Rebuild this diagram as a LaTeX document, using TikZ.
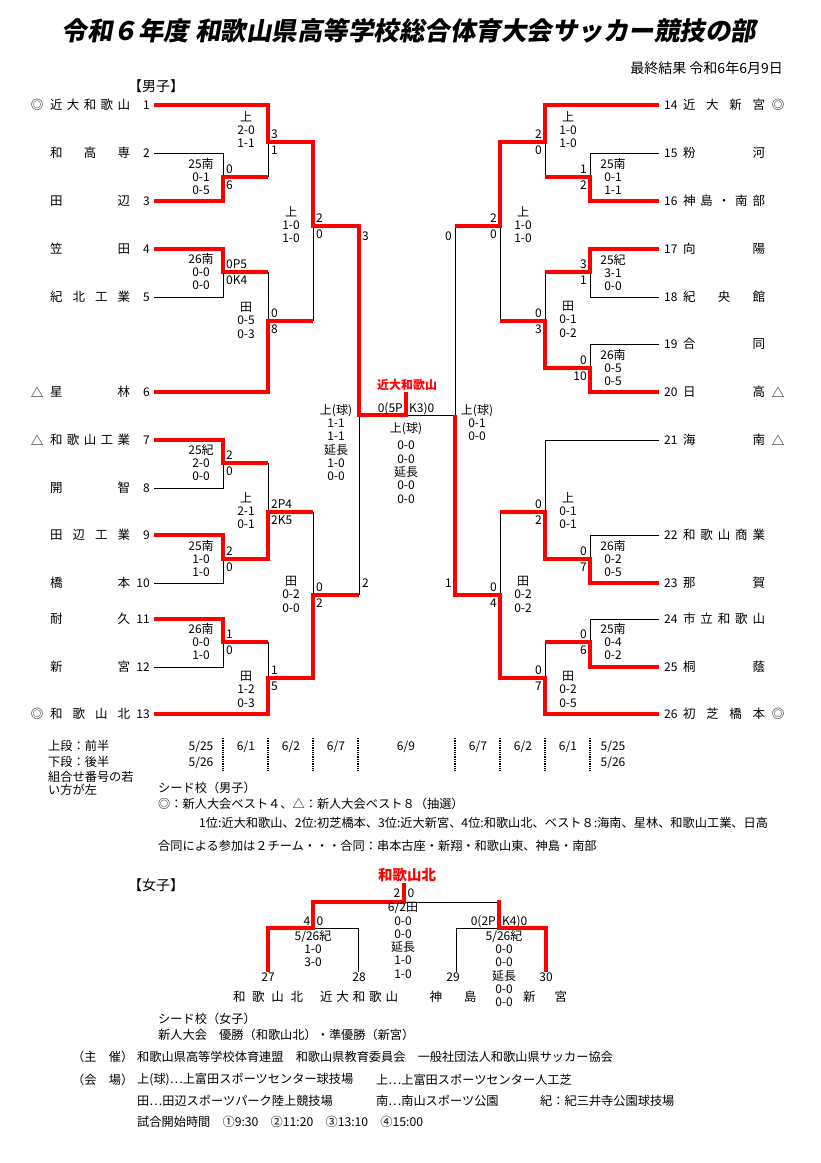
\documentclass[tikz,border=0pt]{standalone}
\usepackage{fontspec}
\setmainfont{Noto Sans CJK JP}
\newfontfamily\ttlfont[FakeSlant=0.18]{Noto Sans CJK JP}
\definecolor{winred}{RGB}{255,0,0}

\tikzset{
  win/.style={draw=winred,line width=4pt},
  lose/.style={draw=black,line width=0.8pt},
  datesep/.style={draw=black,line width=1.3pt,densely dotted},
  tname/.style={inner sep=0pt,font=\fontsize{12.5}{14}\selectfont,text height=9.5pt,text depth=1.5pt},
  tnum/.style={inner sep=0pt,font=\fontsize{12}{14}\selectfont,text height=8.5pt,text depth=0pt},
  seedmk/.style={inner sep=0pt,font=\fontsize{12.5}{14}\selectfont},
  score/.style={inner sep=0pt,font=\fontsize{12}{14}\selectfont,text height=8.5pt,text depth=0pt},
  result/.style={inner sep=0pt,anchor=north,align=center,font=\fontsize{12}{13.3}\selectfont},
  note/.style={inner sep=0pt,anchor=west,font=\fontsize{12.2}{14}\selectfont},
  head/.style={inner sep=0pt,anchor=west,font=\fontsize{14}{16}\selectfont},
  champ/.style={inner sep=0pt,text=winred,font=\bfseries\fontsize{12}{14}\selectfont}
}

% team rows: number, y, seed mark, name
\newcommand{\lteam}[4]{%
  \node[seedmk] (lm#1) at (37,#2) {#3};
  \node[tname] (nm#1) at (90,#2) {\makebox[80pt][s]{#4}};
  \node[tnum,anchor=east] (no#1) at (150,#2) {#1};}
\newcommand{\rteam}[4]{%
  \node[tnum,anchor=west] (no#1) at (664,#2) {#1};
  \node[tname] (nm#1) at (724,#2) {\makebox[82pt][s]{#4}};
  \node[seedmk] (rm#1) at (778,#2) {#3};}
% scores beside a bracket: name, x, y, upper, lower
\newcommand{\lsc}[5]{%
  \node[score,anchor=west] (#1a) at (#2+3,#3-8) {#4};
  \node[score,anchor=west] (#1b) at (#2+3,#3+8) {#5};}
\newcommand{\rsc}[5]{%
  \node[score,anchor=east] (#1a) at (#2-3,#3-8) {#4};
  \node[score,anchor=east] (#1b) at (#2-3,#3+8) {#5};}
% venue and half scores: name, x, y of first line, text
\newcommand{\res}[4]{\node[result] (#1) at (#2,#3-6) {#4};}

\begin{document}
\begin{tikzpicture}[x=1pt,y=-1pt]
  \useasboundingbox (0,0) rectangle (821,1163);
  \node[font=\ttlfont\bfseries\fontsize{25.5}{28}\selectfont] (title) at (409,31)
    {令和６年度 和歌山県高等学校総合体育大会サッカー競技の部};
  \node[head,anchor=east] (final) at (783,68) {最終結果 令和6年6月9日};
  \node[head] (boys) at (128,86) {【男子】};

  % boys, left half
  \lteam{1}{105}{◎}{近 大 和 歌 山}
  \lteam{2}{153}{}{和 高 専}
  \lteam{3}{201}{}{田 辺}
  \lteam{4}{249}{}{笠 田}
  \lteam{5}{297}{}{紀 北 工 業}
  \lteam{6}{392}{△}{星 林}
  \lteam{7}{440}{△}{和 歌 山 工 業}
  \lteam{8}{488}{}{開 智}
  \lteam{9}{535}{}{田 辺 工 業}
  \lteam{10}{583}{}{橋 本}
  \lteam{11}{619}{}{耐 久}
  \lteam{12}{667}{}{新 宮}
  \lteam{13}{714}{◎}{和 歌 山 北}
  % boys, right half
  \rteam{14}{105}{◎}{近 大 新 宮}
  \rteam{15}{153}{}{粉 河}
  \rteam{16}{201}{}{神 島 ・ 南 部}
  \rteam{17}{249}{}{向 陽}
  \rteam{18}{297}{}{紀 央 館}
  \rteam{19}{344}{}{合 同}
  \rteam{20}{392}{△}{日 高}
  \rteam{21}{440}{△}{海 南}
  \rteam{22}{535}{}{和 歌 山 商 業}
  \rteam{23}{583}{}{那 賀}
  \rteam{24}{619}{}{市 立 和 歌 山}
  \rteam{25}{667}{}{桐 蔭}
  \rteam{26}{714}{◎}{初 芝 橋 本}

  % losing branches
  \draw[lose] (154,153) -- (223,153) -- (223,177);
  \draw[lose] (268,142) -- (268,177);
  \draw[lose] (223,272) -- (223,297) -- (154,297);
  \draw[lose] (268,272) -- (268,321);
  \draw[lose] (313,226) -- (313,321);
  \draw[lose] (359,415) -- (359,595);
  \draw[lose] (223,463) -- (223,488) -- (154,488);
  \draw[lose] (268,463) -- (268,512);
  \draw[lose] (223,559) -- (223,583) -- (154,583);
  \draw[lose] (313,512) -- (313,595);
  \draw[lose] (223,642) -- (223,667) -- (154,667);
  \draw[lose] (268,642) -- (268,678);
  \draw[lose] (406,415) -- (455,415);
  \draw[lose] (659,153) -- (590,153) -- (590,177);
  \draw[lose] (545,142) -- (545,177);
  \draw[lose] (590,272) -- (590,297) -- (659,297);
  \draw[lose] (659,344) -- (590,344) -- (590,368);
  \draw[lose] (545,272) -- (545,321);
  \draw[lose] (500,226) -- (500,321);
  \draw[lose] (455,226) -- (455,415);
  \draw[lose] (659,440) -- (545,440) -- (545,512);
  \draw[lose] (659,535) -- (590,535) -- (590,559);
  \draw[lose] (500,512) -- (500,595);
  \draw[lose] (659,619) -- (590,619) -- (590,642);
  \draw[lose] (545,642) -- (545,678);

  % winning paths
  \draw[win] (154,105) -- (268,105) -- (268,142) -- (313,142) -- (313,226)
    -- (359,226) -- (359,415) -- (406,415) -- (406,392);
  \draw[win] (154,201) -- (223,201) -- (223,177) -- (268,177);
  \draw[win] (154,249) -- (223,249) -- (223,272) -- (268,272);
  \draw[win] (154,392) -- (268,392) -- (268,321) -- (313,321);
  \draw[win] (154,440) -- (223,440) -- (223,463) -- (268,463);
  \draw[win] (154,535) -- (223,535) -- (223,559) -- (268,559) -- (268,512) -- (313,512);
  \draw[win] (154,619) -- (223,619) -- (223,642) -- (268,642);
  \draw[win] (154,714) -- (268,714) -- (268,678) -- (313,678) -- (313,595) -- (359,595);
  \draw[win] (659,105) -- (545,105) -- (545,142) -- (500,142) -- (500,226) -- (455,226);
  \draw[win] (659,201) -- (590,201) -- (590,177) -- (545,177);
  \draw[win] (659,249) -- (590,249) -- (590,272) -- (545,272);
  \draw[win] (659,392) -- (590,392) -- (590,368) -- (545,368) -- (545,321) -- (500,321);
  \draw[win] (659,583) -- (590,583) -- (590,559) -- (545,559) -- (545,512) -- (500,512);
  \draw[win] (659,667) -- (590,667) -- (590,642) -- (545,642);
  \draw[win] (659,714) -- (545,714) -- (545,678) -- (500,678) -- (500,595)
    -- (455,595) -- (455,415);

  % scores
  \lsc{s23}{223}{177}{0}{6}
  \lsc{s1}{268}{142}{3}{1}
  \lsc{s45}{223}{272}{0P5}{0K4}
  \lsc{s6}{268}{321}{0}{8}
  \lsc{qa}{313}{226}{2}{0}
  \lsc{s78}{223}{463}{2}{0}
  \lsc{s910}{223}{559}{2}{0}
  \lsc{s710}{268}{512}{2P4}{2K5}
  \lsc{s1112}{223}{642}{1}{0}
  \lsc{s13}{268}{678}{1}{5}
  \lsc{qb}{313}{595}{0}{2}
  \rsc{s1516}{590}{177}{1}{2}
  \rsc{s14}{545}{142}{2}{0}
  \rsc{s1718}{590}{272}{3}{1}
  \rsc{s1920}{590}{368}{0}{10}
  \rsc{s1720}{545}{321}{0}{3}
  \rsc{qc}{500}{226}{2}{0}
  \rsc{s2223}{590}{559}{0}{7}
  \rsc{s21}{545}{512}{0}{2}
  \rsc{s2425}{590}{642}{0}{6}
  \rsc{s26}{545}{678}{0}{7}
  \rsc{qd}{500}{595}{0}{4}
  \node[score,anchor=west] (sfa) at (362,236) {3};
  \node[score,anchor=west] (sfb) at (362,583) {2};
  \node[score,anchor=east] (sfc) at (452,236) {0};
  \node[score,anchor=east] (sfd) at (452,583) {1};
  \node[score,anchor=east] (fa) at (403,408) {0(5P};
  \node[score,anchor=west] (fb) at (409,408) {K3)0};
  \node[champ] (champ) at (407,385) {近大和歌山};

  % venues and half scores
  \res{r23}{201}{164}{25南\\0-1\\0-5}
  \res{r1}{246}{117}{上\\2-0\\1-1}
  \res{r45}{201}{259}{26南\\0-0\\0-0}
  \res{r6}{246}{308}{田\\0-5\\0-3}
  \res{ra}{291}{212}{上\\1-0\\1-0}
  \res{r78}{201}{450}{25紀\\2-0\\0-0}
  \res{r910}{201}{546}{25南\\1-0\\1-0}
  \res{r710}{246}{498}{上\\2-1\\0-1}
  \res{r1112}{201}{629}{26南\\0-0\\1-0}
  \res{r13}{246}{677}{田\\1-2\\0-3}
  \res{rb}{291}{582}{田\\0-2\\0-0}
  \res{rsl}{336}{410}{上(球)\\1-1\\1-1\\延長\\1-0\\0-0}
  \res{rf}{406}{428}{上(球)}
  \res{rfs}{406}{447}{0-0\\0-0\\延長\\0-0\\0-0}
  \res{rsr}{477}{410}{上(球)\\0-1\\0-0}
  \res{r14}{568}{117}{上\\1-0\\1-0}
  \res{r1516}{613}{164}{25南\\0-1\\1-1}
  \res{r1718}{613}{260}{25紀\\3-1\\0-0}
  \res{r1920}{613}{355}{26南\\0-5\\0-5}
  \res{r1720}{568}{307}{田\\0-1\\0-2}
  \res{rc}{523}{212}{上\\1-0\\1-0}
  \res{r21}{568}{498}{上\\0-1\\0-1}
  \res{r2223}{613}{546}{26南\\0-2\\0-5}
  \res{r2425}{613}{629}{25南\\0-4\\0-2}
  \res{r26}{568}{677}{田\\0-2\\0-5}
  \res{rd}{523}{582}{田\\0-2\\0-2}

  % match dates
  \foreach \x in {223,268,313,358,455,500,545,590}
    \draw[datesep] (\x,738) -- (\x,771);
  \node[score] (d1) at (201,746) {5/25};
  \node[score] (d1b) at (201,762) {5/26};
  \node[score] (d2) at (246,746) {6/1};
  \node[score] (d3) at (291,746) {6/2};
  \node[score] (d4) at (336,746) {6/7};
  \node[score] (d5) at (406,746) {6/9};
  \node[score] (d6) at (478,746) {6/7};
  \node[score] (d7) at (523,746) {6/2};
  \node[score] (d8) at (568,746) {6/1};
  \node[score] (d9) at (613,746) {5/25};
  \node[score] (d9b) at (613,762) {5/26};

  % notes
  \node[note] (n1) at (48,746) {上段：前半};
  \node[note] (n2) at (48,762) {下段：後半};
  \node[note] (n3) at (48,777) {組合せ番号の若};
  \node[note] (n4) at (48,790) {い方が左};
  \node[note] (n5) at (158,788) {シード校（男子）};
  \node[note] (n6) at (158,804) {◎：新人大会ベスト４、△：新人大会ベスト８（抽選）};
  \node[note] (n7) at (199,823) {1位:近大和歌山、2位:初芝橋本、3位:近大新宮、4位:和歌山北、ベスト８:海南、星林、和歌山工業、日高};
  \node[note] (n8) at (158,846) {合同による参加は２チーム・・・合同：串本古座・新翔・和歌山東、神島・南部};

  % girls
  \node[head] (girls) at (128,885) {【女子】};
  \draw[lose] (404,902) -- (499,902);
  \draw[lose] (313,928) -- (358,928) -- (358,972);
  \draw[lose] (499,928) -- (456,928) -- (456,972);
  \draw[win] (404,883) -- (404,902) -- (313,902) -- (313,928) -- (268,928) -- (268,972);
  \draw[win] (499,900) -- (499,928) -- (546,928) -- (546,972);
  \node[champ,font=\bfseries\fontsize{14.5}{16}\selectfont] (gchamp) at (407,875) {和歌山北};
  \node[score] (gfa) at (397,893) {2};
  \node[score] (gfb) at (411,893) {0};
  \node[score] (gsa) at (307,921) {4};
  \node[score] (gsb) at (320,921) {0};
  \node[score,anchor=east] (gsc) at (496,921) {0(2P};
  \node[score,anchor=west] (gsd) at (502,921) {K4)0};
  \res{g1}{313}{936}{5/26紀\\1-0\\3-0}
  \res{gf}{403}{908}{6/2田\\0-0\\0-0\\延長\\1-0\\1-0}
  \res{g2}{504}{936}{5/26紀\\0-0\\0-0\\延長\\0-0\\0-0}
  \node[score] (no27) at (268,977) {27};
  \node[score] (no28) at (359,977) {28};
  \node[score] (no29) at (453,977) {29};
  \node[score] (no30) at (546,977) {30};
  \node[tname] (nm27) at (268,997) {\makebox[70pt][s]{和 歌 山 北}};
  \node[tname] (nm28) at (359,997) {\makebox[78pt][s]{近 大 和 歌 山}};
  \node[tname] (nm29) at (453,997) {\makebox[47pt][s]{神 島}};
  \node[tname] (nm30) at (545,997) {\makebox[44pt][s]{新 宮}};

  % footer
  \node[note] (f1) at (158,1019) {シード校（女子）};
  \node[note] (f2) at (158,1035) {新人大会　優勝（和歌山北）・準優勝（新宮）};
  \node[note] (f3) at (72,1057) {（主　催）};
  \node[note] (f4) at (137,1057) {和歌山県高等学校体育連盟　和歌山県教育委員会　一般社団法人和歌山県サッカー協会};
  \node[note] (f5) at (72,1080) {（会　場）};
  \node[note] (f6) at (137,1080) {上(球)…上富田スポーツセンター球技場};
  \node[note] (f7) at (376,1080) {上…上富田スポーツセンター人工芝};
  \node[note] (f8) at (137,1101) {田…田辺スポーツパーク陸上競技場};
  \node[note] (f9) at (376,1101) {南…南山スポーツ公園};
  \node[note] (f10) at (540,1101) {紀：紀三井寺公園球技場};
  \node[note] (f11) at (137,1122) {試合開始時間　①9:30　②11:20　③13:10　④15:00};
\end{tikzpicture}
\end{document}
